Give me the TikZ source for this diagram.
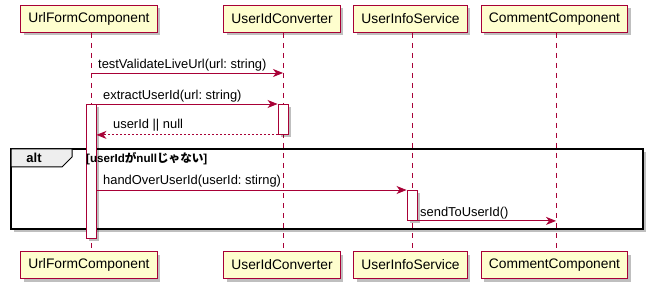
\documentclass[tikz,border=0pt]{standalone}
\usepackage{fontspec}
\setmainfont{Liberation Sans}
\newfontfamily\jpfont{Noto Sans CJK JP}
\usetikzlibrary{arrows.meta,positioning,calc,shadows}
\definecolor{umlRed}{HTML}{A80036}
\definecolor{umlBox}{HTML}{FEFECE}
\definecolor{umlTab}{HTML}{EEEEEE}
\tikzset{
  boxshadow/.style={drop shadow={shadow xshift=3pt, shadow yshift=-3pt, fill=black, opacity=0.25}},
  participant/.style={draw=umlRed, line width=1.1pt, fill=umlBox, boxshadow, font=\fontsize{13.8}{16}\selectfont, minimum height=27pt, inner xsep=7.5pt},
  lifeline/.style={draw=umlRed, line width=0.9pt, dash pattern=on 5pt off 5pt},
  actbar/.style={draw=umlRed, line width=0.9pt, fill=white, boxshadow, minimum width=10pt, inner sep=0pt},
  msg/.style={draw=umlRed, line width=0.9pt, -{Stealth[length=10pt, width=8pt, inset=3pt]}},
  reply/.style={msg, dash pattern=on 2pt off 2pt},
  msgtext/.style={anchor=base west, inner sep=0pt, font=\fontsize{12.9}{15}\selectfont},
  frame/.style={draw=black, line width=1.5pt, fill=white, boxshadow},
}

\begin{document}
\begin{tikzpicture}[x=1pt, y=-1pt]
\useasboundingbox (0,0) rectangle (655,291);

% alt fragment (lifelines run over it)
\draw[frame] (11,149) rectangle (643,229);
\draw[draw=black, line width=1pt, fill=umlTab] (11,149) -- (72,149) -- (72,157) -- (62,167) -- (11,167) -- cycle;
\node[font=\fontsize{13}{15}\selectfont\bfseries] (altLabel) at (34,158) {alt};

% participants, top and bottom
\node[participant] (ufcTop) at (89,19) {UrlFormComponent};
\node[participant] (uicTop) at (282,19) {UserIdConverter};
\node[participant] (uisTop) at (410.5,19) {UserInfoService};
\node[participant] (ccTop) at (554.5,19) {CommentComponent};
\node[participant] (ufcBot) at (89,265) {UrlFormComponent};
\node[participant] (uicBot) at (282,265) {UserIdConverter};
\node[participant] (uisBot) at (410.5,265) {UserInfoService};
\node[participant] (ccBot) at (554.5,265) {CommentComponent};

% lifelines
\draw[lifeline] (91,33) coordinate (ufcLife) -- (91,250);
\draw[lifeline] (283,33) coordinate (uicLife) -- (283,250);
\draw[lifeline] (412,33) coordinate (uisLife) -- (412,250);
\draw[lifeline] (556,33) coordinate (ccLife) -- (556,250);

% activations
\node[actbar, anchor=north, minimum height=134pt] (actUfc) at (91,104) {};
\node[actbar, anchor=north, minimum height=30pt] (actUic) at (283,104) {};
\node[actbar, anchor=north, minimum height=30pt] (actUis) at (412,190) {};

\node[anchor=west, inner sep=0pt, font=\fontsize{11.6}{13}\selectfont\bfseries] (guard) at (86,159)
  {[userId{\jpfont\bfseries が}null{\jpfont\bfseries じゃない}]};

% messages
\draw[msg] (ufcLife |- 0,73) -- (uicLife |- 0,73);
\node[msgtext] (m1) at (98,69) {testValidateLiveUrl(url:\ string)};
\draw[msg] (actUfc.north east) -- (actUic.north west);
\node[msgtext] (m2) at (103,100) {extractUserId(url:\ string)};
\draw[reply] (actUic.south west) -- (actUfc.east |- actUic.south);
\node[msgtext] (m3) at (113,129) {userId || null};
\draw[msg] (actUfc.east |- actUis.north) -- (actUis.north west);
\node[msgtext] (m4) at (103,185) {handOverUserId(userId:\ stirng)};
\draw[msg] (actUis.south east) -- (ccLife |- actUis.south);
\node[msgtext] (m5) at (420,216) {sendToUserId()};
\end{tikzpicture}
\end{document}
